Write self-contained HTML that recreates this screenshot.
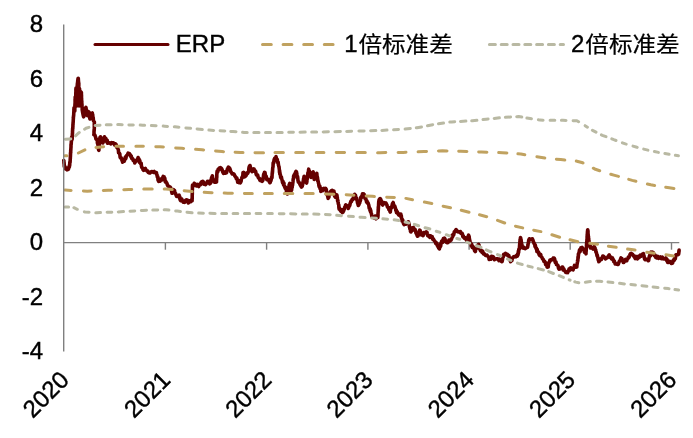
<!DOCTYPE html>
<html lang="zh"><head><meta charset="utf-8"><title>ERP</title>
<style>html,body{margin:0;padding:0;background:#fff}svg{display:block}text{stroke:#000;stroke-width:0.4px;font-family:"Liberation Sans","Noto Sans CJK SC",sans-serif;fill:#000}</style>
</head><body>
<svg width="693" height="438" viewBox="0 0 693 438">
<rect width="693" height="438" fill="#fff"/>

<g stroke="#808080" stroke-width="1.4" fill="none">
<line x1="63.7" y1="242.6" x2="679.3" y2="242.6"/>
<line x1="165.4" y1="242.6" x2="165.4" y2="249.7"/>
<line x1="266.6" y1="242.6" x2="266.6" y2="249.7"/>
<line x1="367.9" y1="242.6" x2="367.9" y2="249.7"/>
<line x1="469.1" y1="242.6" x2="469.1" y2="249.7"/>
<line x1="570.2" y1="242.6" x2="570.2" y2="249.7"/>
<line x1="671.5" y1="242.6" x2="671.5" y2="249.7"/>
</g>
<g fill="none" stroke-width="3" stroke-linecap="round" stroke-linejoin="round">
<polyline stroke="#650000" stroke-width="3.6" points="63.8,160.5 63.9,160.8 63.9,161.2 64.0,163.5 64.1,162.6 64.2,164.9 64.2,165.2 64.3,166.5 64.6,165.9 65.0,168.1 65.3,168.8 66.2,167.9 67.0,169.8 68.4,169.3 68.7,168.3 69.1,166.5 69.4,167.0 69.5,164.9 69.6,165.0 69.7,165.4 69.8,162.4 69.9,161.8 70.0,162.1 70.1,162.2 70.2,160.0 70.2,159.4 70.3,158.1 70.3,159.0 70.4,155.4 70.4,157.1 70.5,154.6 70.5,153.3 70.6,152.5 70.6,152.2 70.7,152.9 70.7,150.2 70.8,150.6 70.8,150.0 70.9,148.4 70.9,148.0 71.0,147.3 71.0,145.0 71.1,144.1 71.1,143.7 71.2,144.3 71.3,142.7 71.3,141.5 71.4,141.5 71.5,140.2 71.5,138.9 71.6,139.6 71.6,138.4 71.7,137.0 71.8,137.1 72.0,138.9 72.1,139.5 72.1,138.7 72.2,138.9 72.2,137.6 72.3,135.4 72.3,136.6 72.4,133.2 72.4,133.2 72.5,133.4 72.5,130.7 72.6,130.8 72.6,130.0 72.7,127.8 72.7,128.9 72.8,128.4 72.8,127.0 72.9,127.1 72.9,124.6 73.0,125.0 73.0,123.9 73.1,123.0 73.1,121.9 73.2,122.2 73.2,121.7 73.3,119.5 73.3,119.3 73.4,118.0 73.5,115.8 73.5,116.9 73.6,115.9 73.6,116.1 73.7,114.8 73.8,112.4 73.8,111.8 73.9,111.8 73.9,109.1 74.0,109.6 74.0,107.8 74.1,108.0 74.3,107.9 74.6,108.7 74.8,111.0 74.8,111.0 74.8,108.2 74.9,107.8 74.9,107.4 74.9,108.0 74.9,104.8 75.0,105.1 75.0,104.6 75.0,104.7 75.0,103.7 75.1,103.0 75.1,100.5 75.1,100.0 75.1,99.0 75.2,99.8 75.2,99.2 75.2,97.0 75.3,96.8 75.4,97.6 75.4,98.6 75.5,99.4 75.6,101.0 75.6,100.1 75.6,99.6 75.7,97.9 75.7,96.3 75.7,96.7 75.8,95.7 75.8,95.5 75.8,95.9 75.8,94.3 75.8,92.9 75.9,92.4 75.9,91.8 75.9,89.1 76.0,90.8 76.0,89.7 76.0,88.0 76.0,89.9 76.1,90.5 76.1,90.1 76.1,91.0 76.1,90.9 76.2,93.3 76.2,92.4 76.2,93.2 76.2,94.5 76.3,95.2 76.3,96.5 76.3,96.5 76.4,97.1 76.4,98.4 76.4,99.1 76.4,100.7 76.5,100.5 76.5,103.9 76.5,103.9 76.5,103.3 76.6,104.4 76.6,106.0 76.6,104.7 76.6,104.0 76.7,102.5 76.7,103.8 76.7,103.5 76.7,101.1 76.8,100.4 76.8,98.4 76.8,97.6 76.8,97.5 76.9,96.5 76.9,97.4 76.9,94.6 76.9,93.4 77.0,95.4 77.0,93.3 77.0,91.3 77.0,91.7 77.1,89.4 77.1,90.1 77.1,90.6 77.1,89.5 77.2,88.2 77.2,86.1 77.2,86.0 77.3,84.8 77.4,83.3 77.5,84.3 77.5,82.8 77.6,82.7 77.7,81.0 77.9,79.6 78.1,78.4 78.3,78.4 78.4,80.3 78.5,81.7 78.6,82.2 78.7,83.0 78.8,83.0 78.8,84.8 78.8,85.4 78.8,84.6 78.8,86.3 78.9,86.7 78.9,86.5 78.9,87.3 78.9,88.9 78.9,89.7 78.9,91.8 78.9,93.4 78.9,92.7 78.9,95.0 78.9,96.0 79.0,96.7 79.0,95.7 79.0,96.1 79.0,97.0 79.0,97.7 79.0,98.5 79.0,100.6 79.0,102.3 79.0,102.9 79.1,102.7 79.1,104.0 79.1,105.3 79.1,103.9 79.1,106.0 79.1,105.7 79.1,105.6 79.2,104.4 79.2,103.5 79.2,101.9 79.2,100.2 79.3,101.2 79.3,99.0 79.3,99.6 79.3,99.3 79.4,96.8 79.4,96.0 79.4,96.8 79.4,95.3 79.5,92.9 79.5,91.9 79.5,91.2 79.5,92.6 79.6,91.5 79.6,88.7 79.6,89.0 79.6,90.8 79.6,92.0 79.7,91.9 79.7,91.8 79.7,93.1 79.8,92.7 79.8,93.1 79.8,96.8 79.8,96.6 79.8,97.1 79.9,99.1 79.9,98.4 79.9,100.5 79.9,101.2 80.0,100.1 80.0,101.1 80.0,102.0 80.0,102.6 80.1,104.5 80.1,105.0 80.1,103.4 80.2,103.1 80.2,101.4 80.2,102.9 80.3,100.3 80.3,99.8 80.3,99.3 80.3,99.5 80.4,97.2 80.4,97.8 80.4,95.7 80.5,95.0 80.5,94.1 80.5,91.7 80.6,92.2 80.6,91.5 81.3,92.5 81.3,92.4 81.4,92.6 81.4,95.8 81.5,94.7 81.5,96.5 81.5,98.0 81.6,98.3 81.6,98.4 81.6,99.8 81.7,100.7 81.7,102.2 81.8,101.0 81.8,103.0 81.9,104.0 81.9,103.8 82.0,104.7 82.0,107.0 82.1,107.0 82.2,108.0 82.2,109.4 82.3,110.6 82.3,110.0 82.4,111.0 82.6,112.2 82.7,112.7 82.9,113.5 83.1,114.9 83.3,115.0 83.4,116.1 83.6,116.8 83.7,115.9 83.9,116.5 84.0,114.9 84.2,114.6 84.3,114.0 84.5,111.1 84.6,111.0 84.9,110.3 85.2,110.6 85.5,109.4 85.8,107.5 85.9,107.3 86.1,108.2 86.2,110.0 86.4,109.8 86.5,112.0 86.7,112.1 86.8,112.5 87.0,115.1 87.2,115.5 87.4,115.6 87.6,115.1 87.9,112.1 88.1,112.9 88.3,111.5 89.3,112.5 89.4,113.8 89.5,113.1 89.6,116.1 89.7,117.2 89.7,115.7 89.8,118.7 89.9,117.9 90.0,119.0 90.2,118.1 90.4,118.8 90.6,117.5 90.8,114.7 91.0,114.6 91.2,114.0 92.3,113.0 92.4,113.9 92.5,114.2 92.7,114.6 92.8,115.8 92.9,117.8 93.0,118.0 93.2,117.6 93.4,120.2 93.6,121.0 94.4,122.0 94.4,122.6 94.4,122.2 94.3,123.9 94.3,125.6 94.3,126.0 94.3,125.5 94.3,129.1 94.2,129.3 94.2,130.6 94.2,130.0 94.1,129.8 94.1,131.2 94.0,131.4 94.0,134.6 93.9,134.7 94.4,134.8 94.9,135.1 95.5,136.8 96.0,139.0 96.5,139.5 97.0,139.3 97.1,139.4 97.3,139.9 97.4,143.1 97.6,142.9 97.7,144.1 97.8,143.1 98.0,143.8 98.1,146.6 98.2,146.6 98.4,146.4 98.5,149.8 98.7,149.8 98.8,150.2 98.9,150.3 99.0,147.4 99.0,148.9 99.1,145.7 99.2,147.3 99.3,145.3 99.4,144.1 99.4,144.0 99.5,144.3 99.6,141.5 99.7,140.3 99.8,140.7 99.9,139.0 99.9,137.8 100.0,137.2 100.1,137.4 100.5,136.8 100.9,138.1 101.3,139.2 101.7,140.0 102.1,142.1 102.5,141.5 102.9,142.9 103.2,142.1 103.4,140.4 103.7,140.1 103.9,138.3 104.2,138.2 104.4,136.7 104.7,137.4 105.1,138.8 105.5,138.9 105.9,138.5 106.3,140.1 106.8,142.1 107.2,140.3 107.6,143.2 108.0,142.9 108.9,142.7 109.8,142.9 110.7,143.9 111.6,142.6 112.5,142.9 113.4,142.9 114.1,143.9 114.8,145.2 115.5,143.8 116.2,144.7 116.5,146.5 116.7,147.0 117.0,147.6 117.3,147.7 117.6,148.4 117.8,148.3 118.1,149.4 118.4,150.1 118.6,152.9 118.9,153.0 119.2,153.0 119.5,153.5 119.8,154.0 120.1,157.1 120.4,157.9 120.8,158.1 121.1,157.7 121.4,158.3 121.7,159.2 122.0,160.5 122.3,160.3 122.6,162.1 123.0,161.2 123.5,160.0 124.0,161.4 124.4,160.8 124.8,158.8 125.3,157.2 125.8,158.7 126.2,156.6 126.8,155.4 127.4,154.9 128.1,153.2 128.7,153.8 129.3,153.5 129.7,154.2 130.1,155.1 130.5,155.1 130.9,156.8 131.3,156.1 131.7,158.4 132.2,158.5 132.7,158.7 133.2,160.4 133.8,160.1 134.3,160.8 134.8,163.0 135.2,161.7 135.6,160.8 136.0,161.2 136.4,160.3 136.9,160.3 137.3,159.3 137.7,158.8 138.1,157.5 138.4,159.4 138.8,158.8 139.1,159.4 139.4,162.2 139.8,160.4 140.1,163.0 140.5,163.5 140.8,163.9 141.2,163.3 141.5,166.5 141.8,167.5 142.2,167.5 142.6,168.6 142.9,169.6 143.2,168.4 143.6,170.3 144.2,169.8 144.8,169.1 145.4,168.5 146.0,170.1 146.6,170.5 147.1,171.2 147.7,171.0 148.3,172.5 148.8,172.4 149.4,173.0 150.0,173.0 150.8,172.1 151.7,171.5 152.5,171.7 153.3,172.3 154.2,171.5 155.0,172.6 156.4,172.5 156.6,174.3 156.8,174.3 157.0,175.3 157.2,176.1 157.4,177.1 157.6,177.3 157.8,176.7 158.0,179.9 158.2,180.5 158.4,180.6 158.6,181.4 159.3,181.1 160.1,181.1 160.8,179.0 161.6,179.9 162.2,179.9 162.7,177.7 163.2,176.4 163.8,176.9 164.1,176.9 164.5,179.1 164.8,178.2 165.1,180.6 165.4,182.0 165.8,181.3 166.1,182.1 166.5,182.5 167.0,183.6 167.4,184.9 167.9,185.9 168.3,185.9 168.9,187.0 169.5,187.8 170.1,186.9 170.7,187.8 171.3,189.6 171.5,189.8 171.7,192.2 171.8,191.8 172.0,193.3 172.6,192.8 173.1,190.3 173.6,189.7 174.2,190.3 174.5,190.4 174.8,192.3 175.1,193.1 175.3,193.8 175.6,193.4 175.9,194.8 176.2,195.4 176.5,196.3 177.6,195.8 178.7,195.5 179.1,195.1 179.4,198.2 179.8,196.8 180.2,199.9 180.5,200.6 180.9,200.0 181.7,198.9 182.4,200.6 183.2,202.1 183.9,201.5 184.6,202.4 185.4,200.3 186.1,200.0 186.8,199.9 187.6,200.2 188.3,203.0 189.1,202.2 189.8,201.0 190.6,201.7 191.3,200.0 192.1,200.7 192.1,200.0 192.1,200.4 192.2,197.1 192.2,198.4 192.2,196.6 192.2,196.9 192.2,195.6 192.3,193.3 192.3,194.5 192.3,192.4 192.3,190.2 192.4,189.4 192.4,190.0 192.4,189.1 192.4,187.8 192.4,186.5 192.5,186.3 192.5,185.4 192.5,185.1 193.3,185.9 194.2,183.3 195.0,185.3 195.8,184.4 196.5,185.9 197.3,184.3 198.0,185.9 198.7,186.5 199.3,185.3 200.0,184.0 200.7,184.5 201.3,182.0 202.0,181.6 202.7,181.3 203.3,181.7 203.8,184.2 204.4,183.6 204.9,183.6 205.5,184.7 206.2,183.8 206.8,182.7 207.5,181.3 208.2,182.0 208.9,181.3 209.6,183.9 210.3,183.4 210.5,181.9 210.7,183.0 211.0,180.1 211.2,179.3 211.4,179.2 211.6,177.4 211.9,177.1 212.1,178.0 212.3,175.8 212.5,177.7 212.7,178.3 212.9,178.5 213.1,180.2 213.3,181.1 213.5,180.7 213.7,181.3 214.6,182.2 215.5,180.4 216.4,182.0 216.5,181.9 216.5,180.2 216.6,180.2 216.6,179.0 216.7,177.1 216.7,175.6 216.8,177.4 216.8,174.1 216.9,174.3 216.9,173.1 217.0,172.1 217.0,172.6 217.1,171.0 217.7,171.9 218.2,169.1 218.8,169.8 219.4,168.1 219.9,168.3 220.5,167.6 220.9,168.1 221.3,168.2 221.8,169.0 222.2,170.0 222.6,171.7 223.5,173.4 224.4,172.6 225.3,173.1 225.7,171.6 226.2,172.9 226.6,172.5 227.1,170.2 227.5,168.6 227.9,168.1 228.4,167.1 228.8,167.6 229.2,167.9 229.6,168.0 230.0,169.3 230.4,170.2 230.8,171.7 231.5,172.4 232.2,173.9 232.9,174.0 233.6,173.8 234.1,174.3 234.5,175.1 234.9,176.3 235.4,176.6 235.9,177.3 236.3,178.6 236.8,178.0 237.2,179.3 237.7,182.1 238.1,180.2 238.6,182.0 239.0,182.7 239.7,182.6 240.4,182.9 241.1,181.3 241.3,179.6 241.5,179.0 241.7,178.1 241.9,177.7 242.1,177.0 242.4,177.7 242.6,176.6 242.8,175.9 243.0,172.5 243.2,173.1 243.7,172.5 244.2,175.4 244.7,176.8 245.2,176.5 245.7,175.7 246.2,175.4 246.8,173.0 247.3,173.8 247.6,172.6 247.8,173.4 248.1,172.3 248.4,171.5 248.7,171.1 248.9,168.1 249.2,166.8 249.5,166.1 249.7,166.4 250.0,165.5 250.3,166.8 250.5,168.4 250.8,168.5 251.1,169.0 251.3,170.2 251.6,170.0 251.8,171.1 252.1,171.7 252.6,169.6 253.1,171.2 253.6,168.9 254.1,169.0 254.4,171.0 254.8,171.0 255.1,170.7 255.4,170.9 255.8,172.1 256.1,174.0 256.5,174.9 256.8,175.1 257.2,174.6 257.7,175.2 258.1,177.2 258.6,178.1 259.0,178.2 259.4,178.4 259.9,180.2 260.3,180.6 261.3,179.5 262.3,181.3 262.5,179.9 262.7,179.6 262.9,180.2 263.1,178.5 263.3,178.4 263.4,176.4 263.6,174.8 263.8,174.1 264.0,175.4 264.2,173.8 264.4,172.4 264.7,172.6 265.0,172.5 265.3,174.7 265.6,175.9 265.9,175.9 266.2,176.2 266.5,178.2 266.8,179.7 267.1,179.2 267.7,179.1 268.2,179.2 268.8,180.8 269.3,181.8 269.9,182.7 270.2,182.5 270.5,180.2 270.8,181.2 271.0,180.3 271.3,178.8 271.6,177.1 271.9,177.2 272.0,177.8 272.1,175.0 272.1,175.8 272.2,173.2 272.3,172.4 272.4,173.2 272.4,171.0 272.5,172.2 272.6,170.0 272.7,168.3 272.8,167.6 272.8,167.4 272.9,167.3 273.0,167.3 273.1,164.1 273.1,164.1 273.2,162.7 273.3,162.8 273.6,163.4 274.0,160.2 274.3,159.1 274.6,158.4 275.0,158.6 275.3,159.3 275.7,158.5 276.0,156.6 276.3,158.1 276.5,159.6 276.8,160.2 277.1,159.2 277.3,159.5 277.6,162.6 277.8,162.8 278.1,162.8 278.2,162.2 278.4,165.0 278.5,164.9 278.7,165.8 278.8,166.5 279.0,166.8 279.1,167.2 279.2,168.8 279.4,169.9 279.5,172.5 279.7,170.9 279.8,174.2 280.0,172.8 280.1,174.5 280.4,174.8 280.6,177.0 280.9,177.8 281.1,177.3 281.4,177.0 281.7,179.0 281.9,179.5 282.2,180.6 282.5,182.6 282.9,181.2 283.2,182.5 283.5,184.9 283.9,183.1 284.2,185.0 284.6,187.0 284.9,186.8 285.2,188.4 285.5,186.9 285.8,187.7 286.1,188.5 286.5,191.8 286.8,190.6 287.1,192.8 287.4,194.0 287.7,193.6 287.9,192.3 288.0,191.2 288.2,192.4 288.4,190.6 288.5,188.6 288.7,189.1 288.9,187.1 289.0,186.1 289.2,184.5 289.4,185.9 289.5,185.5 289.7,183.4 289.9,184.7 290.2,186.4 290.4,184.5 290.6,186.0 290.9,187.6 291.1,189.9 291.4,190.7 291.6,190.2 291.7,189.1 291.8,187.8 292.0,187.6 292.1,187.0 292.2,187.5 292.3,184.4 292.5,185.5 292.6,184.5 292.7,183.9 292.8,183.0 293.0,181.7 293.1,180.0 293.2,179.2 293.3,178.5 293.5,179.0 293.6,176.0 293.7,176.5 294.2,174.8 294.6,175.8 295.1,173.5 295.6,172.2 296.0,171.4 296.5,172.0 296.6,173.0 296.8,173.1 296.9,175.9 297.1,176.5 297.2,177.6 297.4,176.3 297.6,176.6 297.7,177.5 297.9,179.5 298.0,181.0 298.2,181.0 298.3,182.0 298.8,181.9 299.4,183.1 299.9,184.3 300.4,185.2 300.9,186.0 301.5,187.0 302.0,186.6 302.2,186.3 302.4,183.8 302.6,185.1 302.8,182.6 303.0,182.6 303.1,181.2 303.3,181.4 303.5,179.0 303.7,178.3 303.9,177.4 304.1,176.3 304.3,176.5 304.6,178.5 304.9,178.3 305.1,178.4 305.4,179.4 305.7,182.0 305.9,181.3 306.2,181.3 306.5,182.9 306.6,183.0 306.8,181.7 306.9,182.0 307.0,178.5 307.1,178.8 307.3,179.0 307.4,178.3 307.5,177.7 307.7,174.3 307.8,174.2 307.9,172.9 308.1,172.3 308.2,173.8 308.3,171.9 308.4,172.1 308.6,169.6 308.7,169.2 308.9,171.1 309.2,170.7 309.4,170.9 309.7,173.3 309.9,174.6 310.1,172.9 310.4,175.2 310.6,176.1 310.9,175.7 311.1,177.4 311.4,176.2 311.6,174.8 311.9,174.2 312.1,173.6 312.4,173.8 312.6,173.2 312.9,172.0 313.1,171.9 313.2,172.2 313.4,173.9 313.6,175.8 313.7,175.1 313.9,176.3 314.1,176.8 314.2,179.4 314.4,179.3 314.7,178.7 315.0,176.4 315.3,175.7 315.7,175.8 316.0,175.5 316.3,175.0 316.6,173.8 316.8,173.4 316.9,174.4 317.1,176.9 317.3,176.8 317.4,177.3 317.6,178.2 317.7,181.0 317.9,179.9 318.1,181.4 318.2,181.6 318.4,182.9 318.7,183.5 318.9,185.6 319.2,186.8 319.5,185.8 319.8,186.1 320.0,188.5 320.3,187.8 320.6,188.0 320.8,191.5 321.1,191.1 321.8,190.2 322.5,190.7 323.2,188.8 323.9,188.4 324.8,189.5 325.7,188.4 325.9,189.1 326.1,189.1 326.3,189.4 326.5,191.9 326.7,193.0 326.9,194.6 327.1,193.0 327.3,195.4 327.5,195.5 327.7,196.7 327.9,196.5 328.1,198.4 328.4,196.9 328.7,196.9 328.9,197.3 329.2,194.0 329.5,194.4 329.8,194.5 330.0,194.2 330.3,192.0 331.2,190.9 332.1,190.4 333.0,192.7 333.9,191.1 334.0,193.4 334.2,192.9 334.4,192.5 334.5,196.0 334.6,195.3 334.8,196.6 335.4,197.2 336.1,195.8 336.7,194.8 336.8,196.6 337.0,195.4 337.1,198.1 337.3,197.2 337.4,198.6 337.6,200.7 337.8,201.5 337.9,200.3 338.0,201.3 338.2,202.6 338.3,203.8 338.5,204.2 338.6,204.2 338.8,205.4 338.9,207.6 339.1,209.0 339.2,207.2 339.4,209.4 340.1,210.1 340.9,211.3 341.6,209.6 342.4,212.6 343.1,212.1 343.4,210.1 343.7,210.8 344.0,209.8 344.3,209.2 344.6,207.5 344.9,207.0 345.2,206.7 345.5,205.4 345.8,204.8 346.3,206.0 346.8,206.1 347.2,206.8 347.7,206.3 348.2,208.5 348.5,208.1 348.8,206.9 349.1,205.3 349.5,206.1 349.8,205.4 350.1,203.7 350.4,203.0 350.9,201.3 351.5,201.5 352.0,199.7 352.6,199.0 353.1,199.4 353.4,198.4 353.7,196.6 354.0,196.9 354.3,196.4 354.6,194.2 354.9,194.8 355.2,196.0 355.5,195.1 355.8,197.8 356.0,198.7 356.3,198.7 356.6,198.1 356.9,200.2 357.2,200.6 357.5,203.1 357.7,201.4 358.0,204.3 358.3,205.5 358.6,204.8 358.9,204.7 359.1,204.1 359.4,201.4 359.7,203.0 360.0,200.7 360.2,201.2 360.5,200.3 360.8,197.2 361.0,198.3 361.3,196.6 361.9,197.2 362.4,193.9 362.9,194.1 363.5,193.9 363.8,195.5 364.2,194.4 364.5,197.4 364.9,196.4 365.2,198.8 365.6,197.5 365.9,199.4 366.2,200.2 366.6,202.2 366.9,200.8 367.2,201.7 367.5,203.1 367.9,203.3 368.2,203.2 368.5,204.4 368.8,205.1 369.2,208.2 369.5,207.6 369.8,209.0 370.0,210.4 370.3,209.1 370.5,211.8 370.8,210.6 371.0,212.7 371.3,213.8 371.5,213.8 371.8,216.2 372.0,216.0 372.3,216.7 373.2,217.1 374.1,218.1 375.1,216.0 376.0,218.8 376.9,217.8 377.8,217.6 377.8,216.5 377.9,216.9 377.9,214.4 378.0,215.8 378.0,213.8 378.1,212.3 378.1,212.7 378.2,210.9 378.2,209.3 378.3,210.2 378.3,207.3 378.4,208.8 378.4,206.3 378.5,206.6 378.5,206.8 378.6,204.8 378.6,204.2 378.7,202.4 378.7,202.1 379.1,199.8 379.6,199.1 380.1,198.6 380.5,198.8 380.8,199.9 381.1,200.2 381.3,201.2 381.6,203.1 381.9,201.6 382.1,202.7 382.4,204.8 382.7,205.1 383.4,203.2 384.1,202.7 384.8,203.3 385.5,203.3 385.9,202.9 386.4,204.4 386.9,204.7 387.3,206.6 387.8,207.3 388.2,207.8 388.6,207.7 388.9,209.7 389.3,209.9 389.6,209.7 390.0,211.5 390.3,212.0 390.6,209.1 390.8,208.0 391.1,207.0 391.4,207.8 391.7,207.7 392.0,206.6 392.2,204.6 392.5,203.4 392.8,203.3 393.2,202.5 393.7,205.1 394.1,205.6 394.6,205.7 395.0,206.8 395.3,208.0 395.5,208.2 395.8,210.5 396.0,210.6 396.3,210.0 396.5,212.7 396.8,212.3 397.3,211.6 397.8,213.7 398.2,214.0 398.7,215.0 399.6,214.0 400.5,214.6 400.8,214.1 401.0,217.1 401.3,215.6 401.5,218.0 401.8,218.7 402.1,220.9 402.5,219.5 402.9,220.6 403.2,222.4 403.6,223.8 404.1,224.6 404.9,224.2 405.6,224.2 406.4,223.3 407.3,223.5 408.2,221.9 408.4,221.8 408.7,223.0 408.9,223.8 409.1,223.9 409.4,227.2 409.6,226.9 409.8,228.6 410.1,229.2 410.3,227.9 410.5,231.3 410.8,231.8 411.0,231.9 411.4,231.0 411.7,231.0 412.1,229.3 412.4,227.8 412.8,227.8 413.4,227.4 414.0,228.5 414.6,230.1 415.1,229.5 415.6,231.2 416.0,233.2 416.5,233.3 416.9,234.8 417.4,236.2 417.8,236.1 418.1,235.9 418.3,233.7 418.6,233.7 418.9,232.5 419.2,232.7 419.4,231.0 419.7,230.1 420.1,230.3 420.6,232.4 421.0,232.9 421.5,235.0 421.9,233.5 422.4,235.1 423.1,235.7 423.8,232.5 424.4,232.7 425.1,232.9 426.1,231.9 427.0,232.4 427.3,234.1 427.6,235.6 428.0,235.9 428.3,236.1 429.1,235.7 429.9,237.4 430.7,235.9 431.5,236.5 432.1,236.5 432.8,239.3 433.4,238.8 433.8,239.9 434.3,240.7 434.8,241.3 435.2,241.5 435.8,243.6 436.4,242.8 437.0,243.6 437.3,245.4 437.7,245.7 438.0,246.9 438.4,246.4 438.7,248.1 439.1,248.4 439.4,248.9 439.7,247.5 439.9,246.5 440.2,246.9 440.4,244.5 440.7,246.2 440.9,243.1 441.2,243.4 441.6,241.2 442.1,240.7 442.5,242.4 443.0,239.9 443.4,238.6 443.9,238.9 444.5,238.2 445.0,239.0 445.6,241.6 446.1,242.2 446.7,242.5 447.4,242.7 448.1,242.5 448.9,240.1 449.6,241.3 450.3,240.7 450.7,239.5 451.0,240.1 451.4,239.3 451.7,238.7 452.1,235.4 452.4,237.0 452.8,236.3 453.1,234.3 453.7,235.0 454.3,231.8 454.9,231.4 455.5,230.5 456.1,229.6 456.7,230.3 457.6,231.7 458.5,231.9 459.5,231.7 460.4,231.6 460.8,233.3 461.2,233.4 461.6,233.1 462.0,233.2 462.4,233.9 462.8,236.6 463.2,235.7 463.6,236.7 464.0,238.0 464.7,238.4 465.4,237.9 466.1,239.3 466.8,240.7 467.1,239.3 467.3,239.8 467.6,237.9 467.8,237.0 468.1,238.2 468.3,236.0 468.6,235.2 468.8,237.1 469.0,237.2 469.1,236.3 469.3,238.2 469.5,239.1 469.7,240.9 469.9,240.5 470.0,242.4 470.2,242.7 470.4,243.4 470.9,243.3 471.3,246.0 471.8,244.5 472.3,247.4 472.7,246.2 473.2,248.0 473.6,247.2 474.1,248.5 474.6,250.9 475.0,250.8 475.4,251.5 475.8,247.9 476.2,248.6 476.6,247.9 477.0,248.1 477.4,245.6 477.8,245.8 478.2,244.7 478.6,244.4 478.8,246.2 479.1,245.3 479.3,248.1 479.6,247.0 479.8,247.5 480.0,249.8 480.3,250.0 480.5,250.8 481.2,250.2 481.9,252.3 482.7,251.2 483.4,253.8 484.1,253.5 484.8,254.6 485.6,255.4 486.3,255.5 487.1,255.2 487.8,256.2 488.2,256.6 488.7,257.3 489.2,259.5 489.6,259.0 490.3,257.3 491.0,259.2 491.6,256.2 492.3,257.1 493.0,256.7 493.7,257.3 494.4,259.7 495.1,259.0 496.1,259.0 497.2,258.6 498.2,258.9 498.9,260.6 499.7,259.2 500.4,260.4 501.2,261.2 501.9,261.6 502.1,261.6 502.3,260.7 502.5,259.6 502.7,257.9 502.9,257.0 503.1,255.7 503.3,257.0 503.5,255.6 503.7,254.3 504.6,255.0 505.5,253.3 506.5,254.1 507.4,254.3 507.8,255.8 508.3,255.9 508.8,255.3 509.2,257.1 509.5,257.9 509.8,260.1 510.0,259.0 510.3,259.8 510.6,261.6 511.0,260.3 511.5,260.8 511.9,260.5 512.4,257.7 512.8,258.0 513.6,256.7 514.3,256.6 515.1,256.5 515.9,256.8 516.6,255.4 517.4,256.1 517.6,254.8 517.8,253.5 518.0,255.1 518.2,253.5 518.4,250.8 518.6,252.6 518.8,249.2 519.0,249.3 519.2,248.8 519.3,249.4 519.4,248.1 519.5,247.1 519.6,245.4 519.7,243.9 519.8,244.4 519.9,242.0 519.9,241.5 520.0,241.2 520.1,239.3 520.2,239.6 520.3,240.0 520.4,238.9 520.5,237.5 520.7,238.3 520.8,239.5 521.0,239.8 521.1,239.6 521.3,241.8 521.4,242.0 521.6,243.8 521.7,245.1 521.9,244.5 522.0,245.7 522.2,247.0 522.3,246.9 522.5,247.9 523.3,246.9 524.1,248.3 525.0,248.6 525.8,248.1 526.6,247.8 527.4,247.0 527.6,247.2 527.8,245.9 528.0,245.0 528.2,243.6 528.3,242.3 528.5,242.5 528.7,240.1 528.9,240.2 529.1,240.5 529.3,238.8 530.2,239.4 531.1,239.2 532.0,238.8 532.4,238.8 532.8,240.1 533.2,241.0 533.5,242.3 533.9,242.5 534.3,244.0 534.7,244.3 535.0,246.4 535.3,245.0 535.6,247.2 535.9,248.4 536.3,248.0 536.6,249.1 536.9,251.4 537.2,249.4 537.5,251.6 538.0,252.4 538.5,251.9 539.0,254.4 539.6,255.5 540.1,254.9 540.6,254.3 541.1,256.1 541.6,257.0 542.0,257.6 542.5,258.8 543.0,258.9 543.4,260.0 543.9,261.2 544.3,261.0 544.8,261.6 545.2,262.1 545.6,264.5 546.0,263.1 546.3,265.3 546.7,265.2 547.1,267.1 547.5,267.1 547.9,265.2 548.2,267.0 548.5,264.3 548.9,262.6 549.2,262.4 549.6,262.0 549.9,260.0 550.3,260.7 551.0,259.9 551.7,259.4 552.5,259.7 553.2,258.1 553.9,258.0 554.2,258.1 554.6,258.8 555.0,261.1 555.3,262.5 555.6,262.1 556.0,262.0 556.4,264.5 556.7,264.4 557.2,264.8 557.6,265.0 558.0,265.5 558.5,268.2 559.0,269.1 559.4,268.9 560.1,268.9 560.8,267.9 561.4,267.7 562.1,267.1 562.7,267.0 563.2,270.0 563.8,268.9 564.3,270.5 564.9,270.8 565.6,272.2 566.2,272.6 566.9,272.1 567.6,272.6 568.1,271.2 568.5,271.2 569.0,269.2 569.5,270.5 569.9,268.3 570.4,268.0 571.1,269.5 571.8,268.2 572.4,269.0 573.1,269.8 573.5,268.3 573.8,268.1 574.2,266.7 574.5,265.4 574.9,266.2 575.8,267.3 576.8,267.1 576.9,265.6 577.0,264.7 577.1,264.1 577.2,263.8 577.3,262.9 577.4,262.7 577.5,261.9 577.6,260.2 577.8,261.1 577.9,260.1 578.0,256.9 578.1,258.4 578.2,257.8 578.3,256.7 578.4,253.9 578.5,255.2 578.6,253.4 579.0,253.0 579.4,250.4 579.8,249.6 580.1,251.6 580.5,249.9 580.9,247.9 581.3,247.9 582.0,247.4 582.7,248.2 583.4,249.2 584.1,250.7 584.5,252.2 585.0,251.6 585.5,251.7 585.9,253.4 586.0,253.8 586.0,252.6 586.1,249.9 586.2,251.2 586.2,249.5 586.3,249.1 586.3,248.0 586.4,247.8 586.5,246.6 586.5,245.9 586.6,243.1 586.7,243.8 586.7,242.4 586.8,241.5 586.9,241.4 586.9,239.6 587.0,240.1 587.1,238.3 587.1,236.6 587.2,235.6 587.2,234.5 587.3,234.7 587.4,232.6 587.4,233.0 587.5,231.2 587.6,231.4 587.6,230.5 587.7,229.7 587.8,230.6 587.9,232.4 588.0,230.7 588.0,234.0 588.1,233.7 588.2,234.8 588.3,235.9 588.4,237.2 588.5,236.6 588.5,237.6 588.6,240.0 588.7,238.2 588.8,240.7 588.9,241.5 589.0,240.5 589.0,243.0 589.1,244.0 589.2,244.3 589.6,246.3 590.1,245.2 590.5,247.9 591.0,247.2 591.4,247.9 592.3,247.9 593.2,249.1 594.1,246.5 595.0,247.9 595.2,249.4 595.5,249.9 595.7,249.8 595.9,252.2 596.1,251.5 596.3,252.6 596.6,253.6 596.8,254.3 597.0,255.9 597.3,255.1 597.5,256.5 597.8,257.3 598.0,258.5 598.3,260.1 598.5,259.4 598.8,261.8 599.0,261.6 599.5,260.6 600.0,260.2 600.4,258.9 600.9,258.9 601.4,259.6 601.8,257.9 602.3,257.7 602.8,256.1 603.5,256.3 604.1,256.9 604.8,257.5 605.5,258.8 606.2,258.4 606.9,257.9 607.6,257.6 608.3,256.1 609.2,255.0 610.1,257.4 611.0,257.0 611.5,258.9 611.9,258.7 612.4,257.9 612.8,259.5 613.2,259.4 613.7,261.6 614.4,261.2 615.2,263.9 615.9,263.5 616.7,264.2 617.4,264.3 617.9,264.5 618.3,264.2 618.8,262.6 619.2,261.6 619.6,261.2 619.9,260.5 620.3,260.0 620.6,258.9 621.0,257.9 621.5,259.2 621.9,258.6 622.4,260.7 622.9,260.8 623.3,262.5 623.8,262.5 624.4,260.7 625.0,260.3 625.6,259.3 626.2,260.9 626.8,260.7 627.4,258.8 627.9,258.6 628.3,257.1 628.8,257.7 629.2,257.0 629.7,255.6 630.2,254.0 630.6,253.5 631.1,253.4 631.8,253.8 632.5,254.2 633.1,255.2 633.8,256.1 634.5,257.1 635.3,258.5 636.0,256.4 636.8,258.5 637.5,258.8 638.0,256.7 638.6,256.2 639.1,257.6 639.7,256.1 640.2,255.2 641.1,256.2 642.1,254.4 643.0,254.3 643.4,253.6 643.8,255.5 644.2,256.9 644.5,258.7 644.9,259.6 645.3,258.9 645.7,259.7 646.6,259.8 647.5,259.2 648.4,260.7 648.7,260.3 649.0,258.2 649.2,257.2 649.5,255.9 649.8,255.1 650.1,256.3 650.4,253.8 650.6,255.5 650.9,252.0 651.2,252.4 651.9,254.0 652.5,252.2 653.2,252.4 653.9,254.3 654.5,255.7 655.0,255.0 655.6,257.2 656.1,256.2 656.7,257.9 657.6,256.3 658.5,258.3 659.4,257.9 660.3,257.0 661.0,258.5 661.7,258.6 662.4,257.1 663.1,258.8 664.0,258.9 664.9,258.8 665.8,257.9 666.2,258.5 666.7,260.7 667.1,259.5 667.6,262.4 668.0,262.4 668.5,262.5 669.4,261.3 670.4,261.6 671.3,263.4 672.0,263.2 672.6,263.0 673.3,260.1 674.0,260.7 674.3,259.3 674.6,259.8 674.9,257.3 675.3,258.6 675.6,256.7 675.9,254.7 676.2,255.2 677.0,254.5 677.8,254.8 678.6,254.3 678.7,253.3 678.8,253.2 678.9,250.7 679.0,251.8 679.1,250.1"/>
<path stroke="#C0A260" d="M64.9,155.7 L66.9,155.7 M78.4,153.0 L84.9,149.8 M96.0,147.4 L103.6,146.7 M115.9,146.2 L117.1,146.2 L123.5,146.2 M135.9,146.2 L139.0,146.2 L143.4,146.3 M155.8,146.7 L160.0,146.8 L163.4,147.0 M175.7,147.9 L181.9,148.3 L183.6,148.4 M195.6,149.3 L202.0,149.7 L203.6,149.9 M215.6,151.0 L222.1,151.6 L223.5,151.7 M235.1,152.3 L240.4,152.6 L243.0,152.6 M255.0,152.7 L262.3,152.8 L263.5,152.8 M275.0,152.6 L280.0,152.5 L283.4,152.5 M295.7,152.5 L303.4,152.5 M316.2,152.4 L323.9,152.4 M336.2,152.4 L344.6,152.5 M356.9,152.6 L365.3,152.6 M377.6,152.7 L380.0,152.7 L385.8,152.6 M398.1,152.5 L403.1,152.4 L406.0,152.3 M418.1,151.8 L423.9,151.5 L426.5,151.4 M438.5,150.9 L442.4,150.8 L447.0,150.9 M458.7,151.2 L460.8,151.3 L466.9,151.5 M478.7,151.9 L481.6,152.0 L486.9,152.2 M498.7,152.6 L502.4,152.7 L506.9,153.0 M517.9,153.8 L520.9,154.0 L524.8,154.7 M536.9,156.7 L544.8,157.9 M556.4,159.2 L560.7,159.6 L564.8,160.0 M576.3,161.1 L576.9,161.2 L582.7,162.8 L583.0,163.0 M593.3,168.2 L595.4,169.3 L599.7,170.7 M610.8,174.2 L613.8,175.1 L618.5,176.4 M628.7,179.4 L632.3,180.4 L635.9,181.3 M647.4,184.0 L650.8,184.8 L654.6,185.4 M665.7,187.2 L669.3,187.8 L673.9,188.5"/>
<path stroke="#C0A260" d="M65.1,190.1 L71.1,190.4 M83.4,191.0 L87.3,191.2 L91.1,191.0 M103.3,190.5 L108.1,190.3 L111.5,190.2 M123.8,189.8 L128.9,189.6 L131.7,189.5 M143.8,189.1 L149.7,188.9 L152.2,188.9 M164.2,189.0 L165.9,189.0 L172.2,189.6 M184.2,190.7 L192.1,191.6 M204.2,192.3 L207.5,192.5 L212.1,192.7 M224.2,193.1 L227.6,193.2 L232.4,193.3 M244.4,193.5 L247.7,193.6 L252.3,193.6 M264.4,193.6 L269.6,193.6 L272.3,193.6 M284.3,193.5 L292.8,193.5 M305.0,193.5 L313.2,193.5 M325.5,193.9 L333.9,194.2 L333.9,194.2 M346.2,194.8 L353.9,195.2 M366.2,195.9 L372.3,196.3 L374.4,196.5 M386.7,197.3 L394.4,197.5 M405.9,198.4 L412.5,199.7 M424.4,202.1 L431.8,203.4 M443.1,206.2 L450.5,207.7 M461.3,210.2 L469.0,212.3 M479.5,214.8 L486.7,216.7 M497.5,220.4 L504.7,223.0 M515.5,226.2 L522.7,227.9 M533.7,230.2 L540.9,231.6 M551.9,234.8 L559.6,237.3 M570.0,239.8 L577.8,241.8 M589.8,243.3 L597.6,244.2 M608.4,246.2 L616.2,247.3 M627.6,249.0 L635.0,250.0 M646.8,252.3 L654.2,253.3 M666.0,254.8 L673.4,256.0"/>
<path stroke="#B9B9A3" d="M65.4,139.2 L70.0,139.1 L70.7,138.8 M75.5,135.8 L78.7,132.9 L79.3,132.5 M84.6,129.2 L86.0,128.3 L88.9,127.4 M95.2,125.5 L100.0,125.2 M106.3,124.8 L108.0,124.7 L111.1,124.7 M117.7,124.6 L119.0,124.6 L122.2,124.7 M128.9,124.9 L133.3,125.0 M140.2,125.1 L142.7,125.2 L144.6,125.3 M151.4,125.6 L156.1,125.8 M163.2,126.1 L164.6,126.2 L167.5,126.4 M174.3,126.8 L175.0,126.8 L178.9,127.2 M185.9,127.9 L190.6,128.3 M197.1,129.0 L202.3,129.5 M208.9,130.1 L213.6,130.4 M220.1,130.7 L224.8,131.0 M230.8,131.4 L233.0,131.5 L236.0,131.7 M242.6,132.3 L244.0,132.4 L247.2,132.4 M253.8,132.4 L259.0,132.4 M265.5,132.4 L270.5,132.4 M277.0,132.4 L280.0,132.4 L282.2,132.4 M288.7,132.3 L293.4,132.2 M300.0,132.2 L305.2,132.1 M311.7,132.0 L316.6,132.0 M323.2,131.9 L328.4,131.8 M334.9,131.7 L340.4,131.5 M346.7,131.4 L351.6,131.2 M358.9,131.0 L364.1,130.9 M370.6,130.7 L375.8,130.6 M381.9,130.4 L387.0,130.1 M393.6,129.8 L398.5,129.5 M405.1,129.1 L410.3,128.5 M416.3,127.8 L417.0,127.7 L421.5,126.9 M427.5,125.7 L432.7,124.7 M438.5,123.7 L443.5,123.0 M449.8,122.1 L451.6,121.9 L454.7,121.7 M460.5,121.4 L465.9,121.1 M471.7,120.8 L472.4,120.8 L476.9,120.3 M483.0,119.6 L486.2,119.2 L488.1,119.0 M494.2,118.4 L499.4,117.8 M505.4,117.3 L510.6,117.0 M516.7,116.7 L518.6,116.6 L521.8,117.1 M526.9,118.0 L530.1,118.5 L531.4,118.7 M538.4,119.8 L540.0,120.1 L543.1,120.2 M550.1,120.3 L554.8,120.3 M561.4,120.3 L563.0,120.3 L566.0,120.4 M573.1,120.7 L576.9,120.8 L578.6,121.8 M585.1,125.7 L587.4,127.2 M592.4,130.3 L593.0,130.7 L596.0,132.2 M601.4,134.9 L602.3,135.3 L606.0,136.7 M611.8,138.9 L613.8,139.7 L616.0,140.5 M622.4,142.8 L625.4,143.9 L626.2,144.1 M633.0,146.1 L636.9,147.3 L637.2,147.4 M643.7,149.1 L647.9,150.1 M654.4,151.5 L658.4,152.4 M664.9,153.5 L669.1,154.3 M675.4,155.3 L678.4,155.7"/>
<path stroke="#B9B9A3" d="M65.1,207.0 L68.6,207.0 M73.9,207.7 L77.3,209.3 M84.4,211.8 L85.0,212.0 L89.1,212.2 M95.8,212.7 L96.6,212.7 L100.5,212.6 M107.1,212.3 L111.8,212.2 M118.3,211.9 L123.5,211.6 M130.0,211.2 L134.7,210.9 M141.3,210.5 L142.8,210.4 L146.5,210.3 M152.8,210.1 L157.7,209.9 M164.2,209.8 L165.9,209.7 L168.9,210.1 M175.7,210.9 L177.4,211.1 L180.4,211.5 M187.0,212.2 L192.1,212.8 M198.7,213.1 L203.4,213.2 M209.9,213.3 L214.4,213.4 L215.1,213.4 M221.7,213.4 L226.6,213.4 M233.1,213.5 L237.8,213.5 M244.4,213.5 L249.6,213.5 M256.1,213.5 L260.8,213.6 M267.6,213.6 L270.0,213.6 L272.3,213.6 M279.3,213.7 L284.0,213.8 M290.6,213.8 L295.8,213.9 M302.3,214.0 L306.5,214.0 L307.2,214.0 M313.8,214.1 L319.0,214.2 M325.5,214.4 L330.2,214.7 M336.7,215.3 L341.4,215.7 M348.5,216.2 L353.4,216.6 M360.0,217.2 L361.3,217.3 L365.1,217.6 M371.7,218.0 L376.4,218.3 M382.9,218.8 L387.6,219.2 M394.2,219.8 L398.8,220.5 M405.1,222.0 L409.0,223.0 M414.3,224.4 L414.7,224.5 L418.6,225.7 M425.1,227.7 L429.3,228.8 L429.8,229.0 M436.3,231.2 L439.4,232.1 L439.8,232.3 M446.3,234.7 L449.4,235.8 L449.8,236.0 M456.8,238.5 L459.8,239.2 M466.8,242.2 L469.5,243.1 L469.7,243.2 M476.3,245.7 L479.5,246.7 L481.0,247.4 M486.3,249.9 L489.6,251.3 L491.0,251.9 M497.5,254.5 L499.1,255.2 L500.9,256.0 M507.5,259.0 L508.3,259.4 L510.9,260.4 M517.5,263.1 L518.3,263.4 L522.2,264.5 M528.0,266.1 L528.4,266.2 L532.2,267.1 M538.2,268.6 L543.4,270.0 M548.7,271.6 L553.4,273.5 M559.2,275.7 L563.4,277.4 M569.2,279.8 L570.1,280.2 M574.8,281.8 L575.8,282.1 L578.8,282.7 M585.4,282.2 L588.6,281.7 L590.3,281.6 M596.5,281.3 L599.6,281.2 L601.8,281.4 M608.0,282.0 L612.9,282.5 M619.6,283.3 L624.4,283.9 M630.9,284.5 L635.4,285.0 M642.0,285.7 L646.6,286.2 L646.9,286.2 M653.1,287.0 L657.6,287.5 L658.0,287.5 M664.7,288.2 L668.5,288.6 L669.0,288.7 M675.0,289.5 L678.6,290.1"/>
<line stroke="#650000" stroke-width="3" x1="95" y1="44.5" x2="168" y2="44.5"/>
<line stroke="#C0A260" stroke-dasharray="8.8 11.8" x1="262.5" y1="44.5" x2="336" y2="44.5"/>
<line stroke="#B9B9A3" stroke-dasharray="6 5.8" x1="489.4" y1="44.5" x2="563.5" y2="44.5"/>
</g>
<line stroke="#808080" stroke-width="1.4" x1="63.7" y1="24.4" x2="63.7" y2="351.4"/>
<text x="175.8" y="52.3" font-size="24">ERP</text>
<text x="344.3" y="52.3" font-size="24">1</text>
<text transform="translate(358.4 51.8) scale(1 0.926)" font-size="23.6" style="stroke-width:0.25px">倍标准差</text>
<text x="571" y="52.3" font-size="24">2</text>
<text transform="translate(585.3 51.8) scale(1 0.926)" font-size="23.6" style="stroke-width:0.25px">倍标准差</text>
<text x="43.2" y="32.2" font-size="24" text-anchor="end">8</text>
<text x="43.2" y="86.7" font-size="24" text-anchor="end">6</text>
<text x="43.2" y="141.2" font-size="24" text-anchor="end">4</text>
<text x="43.2" y="195.7" font-size="24" text-anchor="end">2</text>
<text x="43.2" y="250.2" font-size="24" text-anchor="end">0</text>
<text x="43.2" y="304.7" font-size="24" text-anchor="end">-2</text>
<text x="43.2" y="359.2" font-size="24" text-anchor="end">-4</text>
<text transform="translate(70.5 381.2) rotate(-45)" font-size="24" text-anchor="end">2020</text>
<text transform="translate(171.8 381.2) rotate(-45)" font-size="24" text-anchor="end">2021</text>
<text transform="translate(273.0 381.2) rotate(-45)" font-size="24" text-anchor="end">2022</text>
<text transform="translate(374.2 381.2) rotate(-45)" font-size="24" text-anchor="end">2023</text>
<text transform="translate(475.5 381.2) rotate(-45)" font-size="24" text-anchor="end">2024</text>
<text transform="translate(576.8 381.2) rotate(-45)" font-size="24" text-anchor="end">2025</text>
<text transform="translate(678.0 381.2) rotate(-45)" font-size="24" text-anchor="end">2026</text>
</svg>
</body></html>
